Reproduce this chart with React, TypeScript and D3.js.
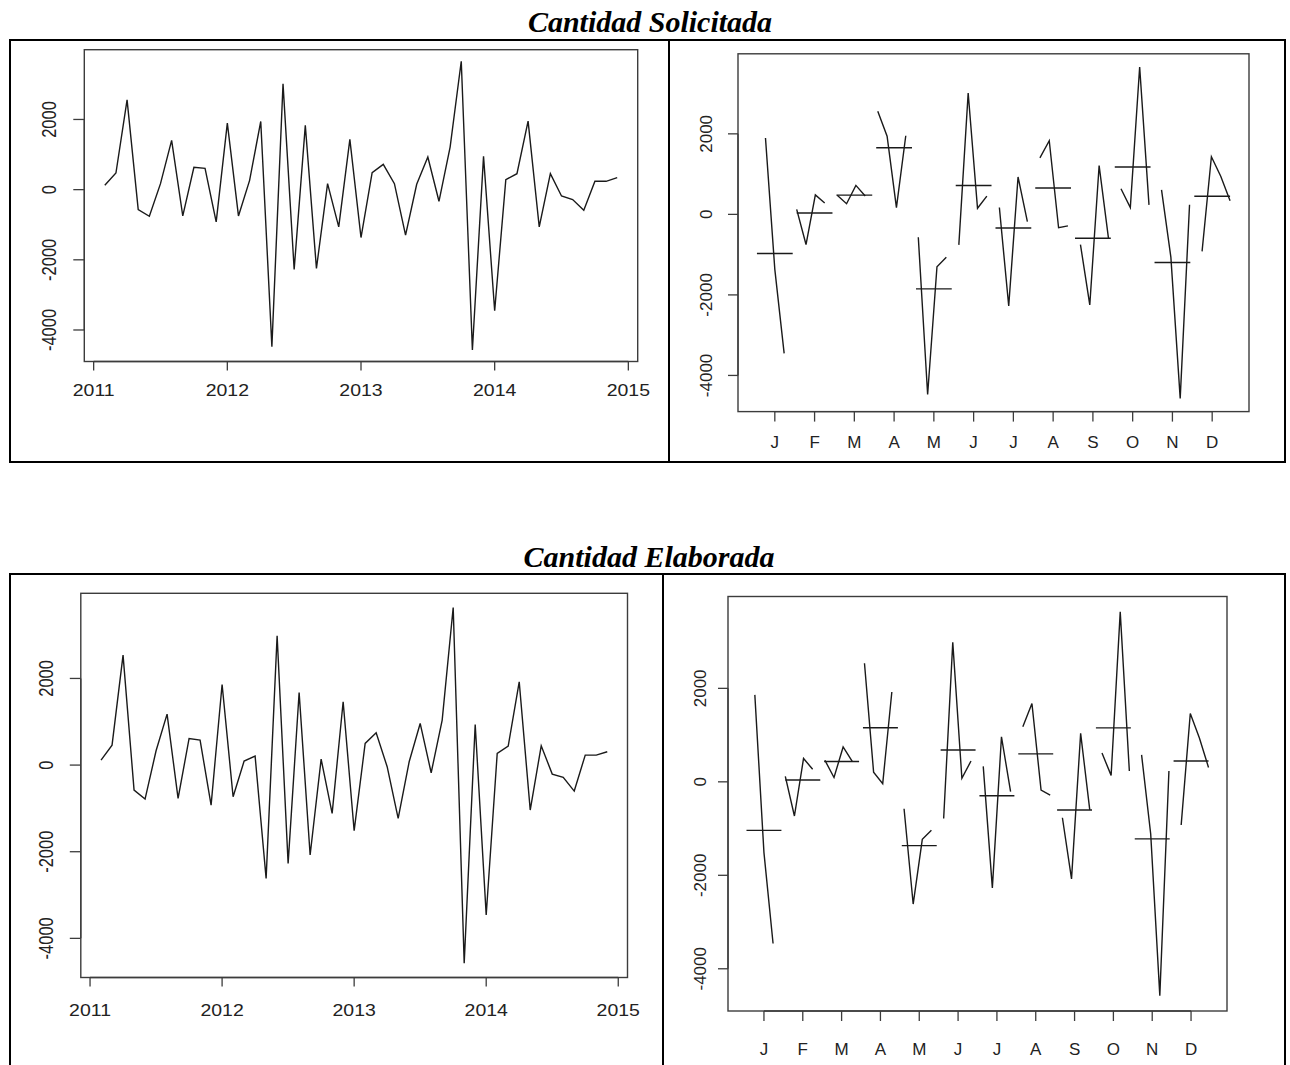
import React from "react";
import * as d3 from "d3";

// ---- data (Feb 2011 .. Dec 2014, monthly) ----
const startYear = 2011;
const startMonth = 2; // February
const solicitada = [
  123, 474, 2560, -569, -758, 170, 1403, -749, 635, 607, -920,
  1896, -749, 265, 1943, -4474, 3015, -2275, 1830, -2247, 170, -1062, 1431,
  -1365, 483, 720, 170, -1299, 152, 929, -332, 1213, 3659, -4569, 948,
  -3451, 284, 455, 1953, -1062, 455, -180, -284, -588, 237, 237, 341,
];
const elaborada = [
  115, 461, 2538, -577, -784, 330, 1177, -769, 615, 577, -923,
  1861, -731, 92, 208, -2615, 2984, -2269, 1676, -2076, 138, -1115, 1461,
  -1515, 500, 746, -38, -1230, 77, 961, -177, 1038, 3637, -4575, 938,
  -3460, 269, 438, 1923, -1038, 446, -208, -285, -600, 231, 231, 308,
];
const monthLabels = ["J", "F", "M", "A", "M", "J", "J", "A", "S", "O", "N", "D"];
const yearTicks = [2011, 2012, 2013, 2014, 2015];
const valueTicks = [-4000, -2000, 0, 2000];
const titles = ["Cantidad Solicitada", "Cantidad Elaborada"];

const FONT = "'Liberation Sans', Arial, sans-serif";
const LINE = "#1a1a1a";
const BOX = "#3c3c3c";

type Box = { x0: number; x1: number; y0: number; y1: number };

const ext = (a: number, b: number): [number, number] => {
  const d = (b - a) * 0.04;
  return [a - d, b + d];
};

const timesOf = (n: number) =>
  d3.range(n).map((k) => startYear + (startMonth - 1 + k) / 12);
const cycleOf = (n: number) => d3.range(n).map((k) => (startMonth - 1 + k) % 12);

function Txt({ x, y, sx, fs, rot, children }: any) {
  return (
    <text
      transform={`translate(${x},${y}) scale(${sx},1)${rot ? " rotate(-90)" : ""}`}
      textAnchor="middle"
      dominantBaseline="central"
      fontFamily={FONT}
      fontSize={fs}
      fill="#222"
    >
      {children}
    </text>
  );
}

function YAxis({ y, box, fs, sx, off, tick }: any) {
  const t0 = y(valueTicks[0]);
  const t1 = y(valueTicks[valueTicks.length - 1]);
  return (
    <g>
      <line x1={box.x0} x2={box.x0} y1={t0} y2={t1} stroke={BOX} strokeWidth={1.3} />
      {valueTicks.map((v) => (
        <g key={v}>
          <line x1={box.x0 - tick} x2={box.x0} y1={y(v)} y2={y(v)} stroke={BOX} strokeWidth={1.3} />
          <Txt x={box.x0 - off} y={y(v)} sx={sx} fs={fs} rot>
            {String(v)}
          </Txt>
        </g>
      ))}
    </g>
  );
}

function TSPlot({ data, box, fs, sx, yOff, xOff }: { data: number[]; box: Box; fs: number; sx: number; yOff: number; xOff: number }) {
  const times = timesOf(data.length);
  const x = d3.scaleLinear().domain(ext(times[0], times[times.length - 1])).range([box.x0, box.x1]);
  const [mn, mx] = d3.extent(data) as [number, number];
  const y = d3.scaleLinear().domain(ext(mn, mx)).range([box.y1, box.y0]);
  const path = d3.line<number>().x((_, i) => x(times[i])).y((d) => y(d))(data) as string;
  return (
    <g>
      <rect x={box.x0} y={box.y0} width={box.x1 - box.x0} height={box.y1 - box.y0} fill="none" stroke={BOX} strokeWidth={1.4} />
      <path d={path} fill="none" stroke={LINE} strokeWidth={1.4} />
      <line x1={x(yearTicks[0])} x2={x(yearTicks[yearTicks.length - 1])} y1={box.y1} y2={box.y1} stroke={BOX} strokeWidth={1.3} />
      {yearTicks.map((t) => (
        <g key={t}>
          <line x1={x(t)} x2={x(t)} y1={box.y1} y2={box.y1 + 9} stroke={BOX} strokeWidth={1.3} />
          <Txt x={x(t)} y={box.y1 + xOff} sx={sx} fs={fs}>
            {String(t)}
          </Txt>
        </g>
      ))}
      <YAxis y={y} box={box} fs={fs} sx={sx} off={yOff} tick={11} />
    </g>
  );
}

function MonthPlot({ data, box, fs, sx, yOff, xOff }: { data: number[]; box: Box; fs: number; sx: number; yOff: number; xOff: number }) {
  const n = data.length;
  const times = timesOf(n);
  const cyc = cycleOf(n);
  const tmin = times[0];
  const tr = times[n - 1] - times[0];
  const x = d3.scaleLinear().domain(ext(0.55, 12.45)).range([box.x0, box.x1]);
  const [mn, mx] = d3.extent(data) as [number, number];
  const y = d3.scaleLinear().domain(ext(mn, mx)).range([box.y1, box.y0]);
  const line = d3.line<[number, number]>().x((d) => x(d[0])).y((d) => y(d[1]));
  const groups = d3.range(12).map((m) => {
    const idx = d3.range(n).filter((k) => cyc[k] === m);
    const pts: [number, number][] = idx.map((k) => [m + 1 - 0.45 + (0.9 * (times[k] - tmin)) / tr, data[k]]);
    const mean = d3.mean(idx.map((k) => data[k])) as number;
    return { m, pts, mean };
  });
  return (
    <g>
      <rect x={box.x0} y={box.y0} width={box.x1 - box.x0} height={box.y1 - box.y0} fill="none" stroke={BOX} strokeWidth={1.4} />
      {groups.map((g) => (
        <g key={g.m}>
          <path d={line(g.pts) as string} fill="none" stroke={LINE} strokeWidth={1.4} />
          <line x1={x(g.m + 1 - 0.45)} x2={x(g.m + 1 + 0.45)} y1={y(g.mean)} y2={y(g.mean)} stroke={LINE} strokeWidth={1.4} />
        </g>
      ))}
      <line x1={x(1)} x2={x(12)} y1={box.y1} y2={box.y1} stroke={BOX} strokeWidth={1.3} />
      {monthLabels.map((lab, i) => (
        <g key={i}>
          <line x1={x(i + 1)} x2={x(i + 1)} y1={box.y1} y2={box.y1 + 10} stroke={BOX} strokeWidth={1.3} />
          <Txt x={x(i + 1)} y={box.y1 + xOff} sx={sx} fs={fs}>
            {lab}
          </Txt>
        </g>
      ))}
      <YAxis y={y} box={box} fs={fs} sx={sx} off={yOff} tick={10} />
    </g>
  );
}

export default function App() {
  const W = 1290;
  const H = 1065;
  const titleFont = "'Liberation Serif', 'Times New Roman', serif";
  return (
    <svg width={W} height={H} style={{ position: "absolute", left: 0, top: 0, background: "#fff" }}>
      <rect x={0} y={0} width={W} height={H} fill="#fff" />
      {/* section 1 */}
      <text x={650} y={32} textAnchor="middle" fontFamily={titleFont} fontWeight="bold" fontStyle="italic" fontSize={30} fill="#000">
        {titles[0]}
      </text>
      <rect x={10} y={40} width={659} height={422} fill="none" stroke="#000" strokeWidth={2} />
      <rect x={669} y={40} width={616} height={422} fill="none" stroke="#000" strokeWidth={2} />
      <TSPlot data={solicitada} box={{ x0: 84.3, x1: 637.7, y0: 49.7, y1: 361.5 }} fs={16.5} sx={1.18} yOff={35} xOff={29} />
      <MonthPlot data={solicitada} box={{ x0: 738, x1: 1249, y0: 53.8, y1: 411.6 }} fs={17} sx={1.0} yOff={32} xOff={31} />

      {/* section 2 */}
      <text x={649} y={567} textAnchor="middle" fontFamily={titleFont} fontWeight="bold" fontStyle="italic" fontSize={30} fill="#000">
        {titles[1]}
      </text>
      <rect x={10} y={574} width={653} height={520} fill="none" stroke="#000" strokeWidth={2} />
      <rect x={663} y={574} width={622} height={520} fill="none" stroke="#000" strokeWidth={2} />
      <TSPlot data={elaborada} box={{ x0: 80.8, x1: 627.5, y0: 593.3, y1: 977.5 }} fs={16.5} sx={1.18} yOff={34} xOff={33} />
      <MonthPlot data={elaborada} box={{ x0: 728, x1: 1227, y0: 596.5, y1: 1011 }} fs={17} sx={1.0} yOff={28} xOff={38} />
    </svg>
  );
}
